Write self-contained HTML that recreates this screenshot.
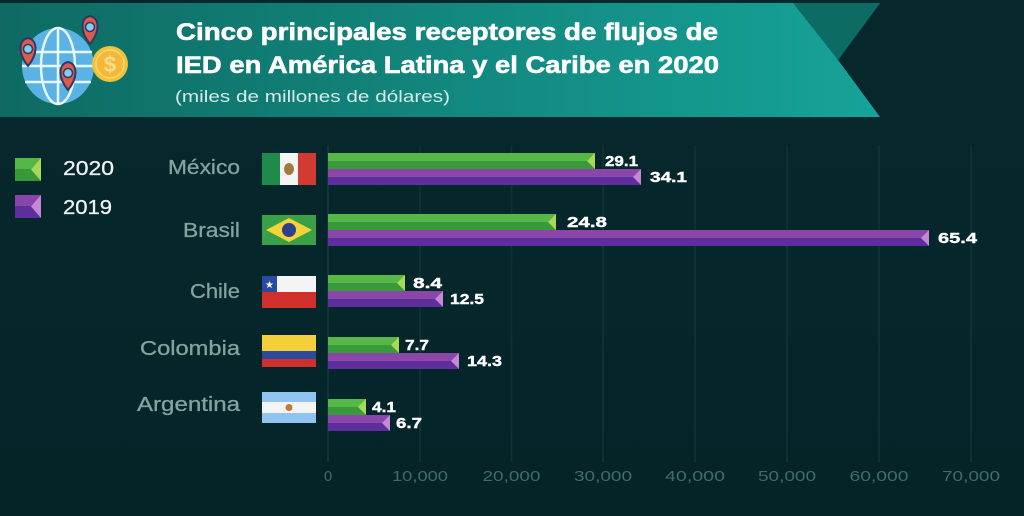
<!DOCTYPE html>
<html><head><meta charset="utf-8"><style>
html,body{margin:0;padding:0;background:#05272b;}
svg{display:block}
</style></head><body>
<svg width="1024" height="516" viewBox="0 0 1024 516" xmlns="http://www.w3.org/2000/svg">
<defs>
<linearGradient id="ban" x1="0" y1="0" x2="1" y2="0">
<stop offset="0" stop-color="#0e6a62"/><stop offset="1" stop-color="#16a399"/>
</linearGradient>
<linearGradient id="bg" x1="0" y1="0" x2="0" y2="1">
<stop offset="0" stop-color="#06282c"/><stop offset="1" stop-color="#042428"/>
</linearGradient>
</defs>
<rect width="1024" height="516" fill="url(#bg)"/>
<!-- banner -->
<polygon points="0,3 880,3 838,60 880,117 0,117" fill="url(#ban)"/>
<polygon points="793,3 880,3 838,60" fill="#0c6b63"/>
<!-- icon -->
<ellipse cx="58" cy="66" rx="36" ry="38" fill="#5ab3e4"/>
<g stroke="#e8f6ff" stroke-width="2.5" fill="none">
<ellipse cx="58" cy="66" rx="17" ry="38"/>
<line x1="58" y1="28" x2="58" y2="104"/>
<line x1="24" y1="52" x2="92" y2="52"/>
<line x1="22" y1="66" x2="94" y2="66"/>
<line x1="25" y1="82" x2="91" y2="82"/>
</g>
<circle cx="110" cy="64" r="18" fill="#f2c03a"/>
<circle cx="110" cy="64" r="14" fill="#f6b73a" stroke="#fad96a" stroke-width="1.5"/>
<text x="110" y="72" font-family="Liberation Sans, sans-serif" font-weight="bold" font-size="22" fill="#f6e08a" text-anchor="middle">$</text>
<g fill="#e05a4a" stroke="#2b3a6a" stroke-width="2">
<path d="M90,44 C80,32 80,18 90,16 C100,18 100,32 90,44 Z"/>
<path d="M28,66 C18,54 18,40 28,38 C38,40 38,54 28,66 Z"/>
<path d="M68,90 C58,78 58,64 68,62 C78,64 78,78 68,90 Z"/>
</g>
<g fill="#7fd0f0" stroke="#2b3a6a" stroke-width="1.5">
<circle cx="90" cy="27" r="4.5"/><circle cx="28" cy="49" r="4.5"/><circle cx="68" cy="73" r="4.5"/>
</g>
<!-- title -->
<g font-family="Liberation Sans, sans-serif" fill="#ffffff">
<text x="176" y="40" font-size="24" font-weight="bold" stroke="#ffffff" stroke-width="0.6" textLength="542" lengthAdjust="spacingAndGlyphs">Cinco principales receptores de flujos de</text>
<text x="176" y="73" font-size="24" font-weight="bold" stroke="#ffffff" stroke-width="0.6" textLength="543" lengthAdjust="spacingAndGlyphs">IED en América Latina y el Caribe en 2020</text>
<text x="175" y="102" font-size="17" fill="#d6ece9" textLength="275" lengthAdjust="spacingAndGlyphs">(miles de millones de dólares)</text>
</g>
<!-- gridlines -->
<g stroke="#0e3437" stroke-width="1.5">
<line x1="328" y1="145" x2="328" y2="462" stroke="#133b3e"/>
<line x1="420" y1="145" x2="420" y2="462"/>
<line x1="511.5" y1="145" x2="511.5" y2="462"/>
<line x1="603" y1="145" x2="603" y2="462"/>
<line x1="695" y1="145" x2="695" y2="462"/>
<line x1="787" y1="145" x2="787" y2="462"/>
<line x1="879" y1="145" x2="879" y2="462"/>
<line x1="971" y1="145" x2="971" y2="462"/>
</g>
<!-- tick labels -->
<g font-family="Liberation Sans, sans-serif" font-size="15" fill="#3f6c68" text-anchor="middle">
<text x="328" y="481">0</text>
<text x="420" y="481" textLength="56" lengthAdjust="spacingAndGlyphs">10,000</text>
<text x="511.5" y="481" textLength="58" lengthAdjust="spacingAndGlyphs">20,000</text>
<text x="603" y="481" textLength="58" lengthAdjust="spacingAndGlyphs">30,000</text>
<text x="695" y="481" textLength="60" lengthAdjust="spacingAndGlyphs">40,000</text>
<text x="787" y="481" textLength="58" lengthAdjust="spacingAndGlyphs">50,000</text>
<text x="879" y="481" textLength="59" lengthAdjust="spacingAndGlyphs">60,000</text>
<text x="971" y="481" textLength="58" lengthAdjust="spacingAndGlyphs">70,000</text>
</g>
<!-- legend -->
<rect x="15" y="158" width="26" height="11" fill="#54b646"/>
<rect x="15" y="169" width="26" height="12" fill="#38983a"/>
<polygon points="41,158 41,181 31,169.5" fill="#a8d858"/>
<rect x="15" y="195" width="26" height="11" fill="#8844a8"/>
<rect x="15" y="206" width="26" height="12" fill="#5e2e9c"/>
<polygon points="41,195 41,218 31,206.5" fill="#c488d4"/>
<g font-family="Liberation Sans, sans-serif" font-size="20" fill="#eef3f2" stroke="#eef3f2" stroke-width="0.3">
<text x="63" y="175" textLength="51" lengthAdjust="spacingAndGlyphs">2020</text>
<text x="63" y="214" textLength="49" lengthAdjust="spacingAndGlyphs">2019</text>
</g>
<!-- country labels -->
<g font-family="Liberation Sans, sans-serif" font-size="20" fill="#82a39f" stroke="#82a39f" stroke-width="0.3">
<text x="168" y="174" textLength="72" lengthAdjust="spacingAndGlyphs">México</text>
<text x="183" y="237" textLength="57" lengthAdjust="spacingAndGlyphs">Brasil</text>
<text x="190" y="298" textLength="50" lengthAdjust="spacingAndGlyphs">Chile</text>
<text x="140" y="355" textLength="100" lengthAdjust="spacingAndGlyphs">Colombia</text>
<text x="137" y="411" textLength="103" lengthAdjust="spacingAndGlyphs">Argentina</text>
</g>
<!-- flags -->
<g>
<rect x="262" y="153" width="18" height="32" fill="#1f8a4a"/>
<rect x="280" y="153" width="18" height="32" fill="#f4f4f4"/>
<rect x="298" y="153" width="18" height="32" fill="#d23a32"/>
<ellipse cx="289" cy="169" rx="5" ry="6" fill="#a07a3a"/>
<rect x="262" y="215" width="54" height="30" fill="#3aa046"/>
<polygon points="266,230 289,218 312,230 289,242" fill="#f2d43a"/>
<circle cx="289" cy="230" r="7" fill="#2e3f8e"/>
<rect x="262" y="276" width="54" height="16" fill="#f4f4f4"/>
<rect x="262" y="276" width="15" height="16" fill="#2a4aa0"/>
<text x="269.5" y="288" font-size="10" fill="#fff" text-anchor="middle" font-family="DejaVu Sans, sans-serif">★</text>
<rect x="262" y="292" width="54" height="16" fill="#d0302c"/>
<rect x="262" y="335" width="54" height="16" fill="#f4cf3a"/>
<rect x="262" y="351" width="54" height="8" fill="#2a4aa0"/>
<rect x="262" y="359" width="54" height="8" fill="#d0302c"/>
<rect x="262" y="392" width="54" height="31" fill="#8fc4ee"/>
<rect x="262" y="402" width="54" height="11" fill="#f4f4f4"/>
<circle cx="289" cy="407.5" r="3.5" fill="#c07a3a"/>
</g>
<!-- bars -->
<g>
<rect x="328" y="153" width="267" height="8" fill="#56b848"/><rect x="328" y="161" width="267" height="8" fill="#389a3a"/>
<polygon points="595,153 595,169 587,161" fill="#a8d858"/>
<rect x="328" y="169" width="313" height="8" fill="#8a46a8"/><rect x="328" y="177" width="313" height="8" fill="#5e2e9c"/>
<polygon points="641,169 641,185 633,177" fill="#c488d4"/>
<rect x="328" y="214" width="228" height="8" fill="#56b848"/><rect x="328" y="222" width="228" height="8" fill="#389a3a"/>
<polygon points="556,214 556,230 548,222" fill="#a8d858"/>
<rect x="328" y="230" width="601" height="8" fill="#8a46a8"/><rect x="328" y="238" width="601" height="8" fill="#5e2e9c"/>
<polygon points="929,230 929,246 921,238" fill="#c488d4"/>
<rect x="328" y="275" width="77" height="8" fill="#56b848"/><rect x="328" y="283" width="77" height="8" fill="#389a3a"/>
<polygon points="405,275 405,291 397,283" fill="#a8d858"/>
<rect x="328" y="291" width="115" height="8" fill="#8a46a8"/><rect x="328" y="299" width="115" height="8" fill="#5e2e9c"/>
<polygon points="443,291 443,307 435,299" fill="#c488d4"/>
<rect x="328" y="337" width="71" height="8" fill="#56b848"/><rect x="328" y="345" width="71" height="8" fill="#389a3a"/>
<polygon points="399,337 399,353 391,345" fill="#a8d858"/>
<rect x="328" y="353" width="131" height="8" fill="#8a46a8"/><rect x="328" y="361" width="131" height="8" fill="#5e2e9c"/>
<polygon points="459,353 459,369 451,361" fill="#c488d4"/>
<rect x="328" y="399" width="38" height="8" fill="#56b848"/><rect x="328" y="407" width="38" height="8" fill="#389a3a"/>
<polygon points="366,399 366,415 358,407" fill="#a8d858"/>
<rect x="328" y="415" width="62" height="8" fill="#8a46a8"/><rect x="328" y="423" width="62" height="8" fill="#5e2e9c"/>
<polygon points="390,415 390,431 382,423" fill="#c488d4"/>
</g>
<!-- value labels -->
<g font-family="Liberation Sans, sans-serif" font-size="15" font-weight="bold" fill="#ffffff" stroke="#ffffff" stroke-width="0.4">
<text x="605" y="166" textLength="33" lengthAdjust="spacingAndGlyphs">29.1</text>
<text x="650" y="182" textLength="37" lengthAdjust="spacingAndGlyphs">34.1</text>
<text x="567" y="227" textLength="40" lengthAdjust="spacingAndGlyphs">24.8</text>
<text x="938" y="243" textLength="39" lengthAdjust="spacingAndGlyphs">65.4</text>
<text x="413" y="288" textLength="29" lengthAdjust="spacingAndGlyphs">8.4</text>
<text x="450" y="304" textLength="34" lengthAdjust="spacingAndGlyphs">12.5</text>
<text x="405" y="350" textLength="24" lengthAdjust="spacingAndGlyphs">7.7</text>
<text x="467" y="366" textLength="35" lengthAdjust="spacingAndGlyphs">14.3</text>
<text x="372" y="412" textLength="24" lengthAdjust="spacingAndGlyphs">4.1</text>
<text x="396" y="428" textLength="26" lengthAdjust="spacingAndGlyphs">6.7</text>
</g>
</svg>
</body></html>
